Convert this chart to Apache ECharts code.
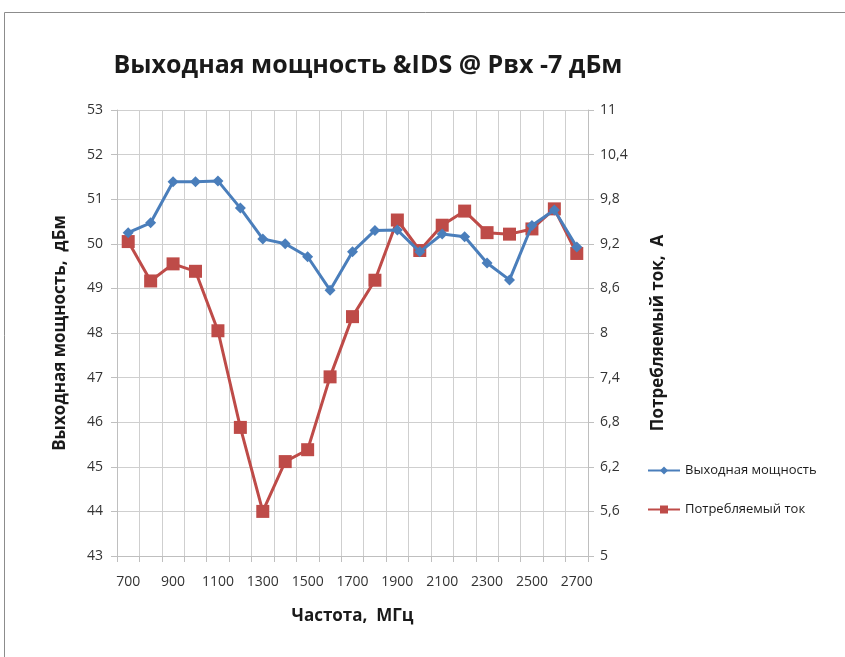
<!DOCTYPE html>
<html>
<head>
<meta charset="utf-8">
<script src="https://cdn.jsdelivr.net/npm/echarts@6/dist/echarts.min.js"></script>
<style>
html, body { margin: 0; padding: 0; background: #fff; }
#main { width: 845px; height: 657px; }
</style>
</head>
<body>
<div id="main"></div>
<script>
// частоты, МГц
var freqs = ['700','800','900','1000','1100','1200','1300','1400','1500','1600','1700',
	'1800','1900','2000','2100','2200','2300','2400','2500','2600','2700'];
// выходная мощность, дБм
var powerOut = [50.25, 50.47, 51.39, 51.39, 51.41, 50.80, 50.11, 50.00, 49.71, 48.96, 49.82,
	50.30, 50.31, 49.82, 50.22, 50.16, 49.57, 49.19, 50.41, 50.76, 49.93];
// потребляемый ток, А
var current = [9.23, 8.70, 8.93, 8.83, 8.03, 6.73, 5.60, 6.27, 6.43, 7.41, 8.22,
	8.71, 9.52, 9.11, 9.45, 9.64, 9.35, 9.33, 9.40, 9.67, 9.07];

var font = '"Open Sans", "Noto Sans", sans-serif';

function commaFmt(v) {
	return String(parseFloat(v.toFixed(1))).replace('.', ',');
}

var option = {
	backgroundColor: '#fff',
	animation: false,
	textStyle: { fontFamily: font },
	title: {
		text: 'Выходная мощность &IDS @ Рвх -7 дБм',
		left: 363,
		top: 48,
		textAlign: 'center',
		textStyle: { fontSize: 25, fontWeight: 'bold', color: '#1a1a1a', fontFamily: font }
	},
	legend: {
		orient: 'vertical',
		left: 642,
		top: 459,
		itemGap: 26,
		itemWidth: 32,
		itemHeight: 10,
		textStyle: { fontSize: 13, color: '#1a1a1a', fontFamily: font },
		data: ['Выходная мощность', 'Потребляемый ток']
	},
	grid: { left: 117, right: 257, top: 110, bottom: 101 },
	xAxis: {
		type: 'category',
		data: freqs,
		boundaryGap: true,
		name: 'Частота,  МГц',
		nameLocation: 'middle',
		nameGap: 52,
		nameTextStyle: { fontSize: 17, fontWeight: 'bold', color: '#1a1a1a' },
		axisLine: { lineStyle: { color: '#bfbfbf' } },
		axisTick: { show: true, interval: 0, length: 6, lineStyle: { color: '#bfbfbf' } },
		axisLabel: { interval: 1, fontSize: 14, color: '#333', margin: 19 },
		splitLine: { show: true, interval: 0, lineStyle: { color: '#cfcfcf' } }
	},
	yAxis: [{
		type: 'value',
		min: 43,
		max: 53,
		interval: 1,
		name: 'Выходная мощность,  дБм',
		nameLocation: 'middle',
		nameGap: 48,
		nameTextStyle: { fontSize: 17, fontWeight: 'bold', color: '#1a1a1a' },
		axisLine: { show: true, lineStyle: { color: '#bfbfbf' } },
		axisTick: { show: true, length: 6, lineStyle: { color: '#bfbfbf' } },
		axisLabel: { fontSize: 14, color: '#333', margin: 14 },
		splitLine: { show: true, lineStyle: { color: '#cfcfcf' } }
	}, {
		type: 'value',
		min: 5,
		max: 11,
		interval: 0.6,
		name: 'Потребляемый ток,  А',
		nameLocation: 'middle',
		nameGap: 62,
		nameRotate: 90,
		nameTextStyle: { fontSize: 17, fontWeight: 'bold', color: '#1a1a1a' },
		axisLine: { show: true, lineStyle: { color: '#bfbfbf' } },
		axisTick: { show: true, length: 6, lineStyle: { color: '#bfbfbf' } },
		axisLabel: { fontSize: 14, color: '#333', margin: 12, formatter: commaFmt },
		splitLine: { show: false }
	}],
	graphic: [{
		type: 'rect',
		shape: { x: 4.5, y: 12.5, width: 850, height: 660 },
		style: { fill: 'none', stroke: '#8c8c8c', lineWidth: 1 },
		silent: true
	}],
	series: [{
		name: 'Выходная мощность',
		type: 'line',
		yAxisIndex: 0,
		data: powerOut,
		symbol: 'diamond',
		symbolSize: 11,
		lineStyle: { width: 3, color: '#4a7ebb' },
		itemStyle: { color: '#4a7ebb' },
		z: 3
	}, {
		name: 'Потребляемый ток',
		type: 'line',
		yAxisIndex: 1,
		data: current,
		symbol: 'rect',
		symbolSize: 13,
		lineStyle: { width: 3, color: '#be4b48' },
		itemStyle: { color: '#be4b48' },
		z: 2
	}]
};

var chart = echarts.init(document.getElementById('main'));
chart.setOption(option);
</script>
</body>
</html>
